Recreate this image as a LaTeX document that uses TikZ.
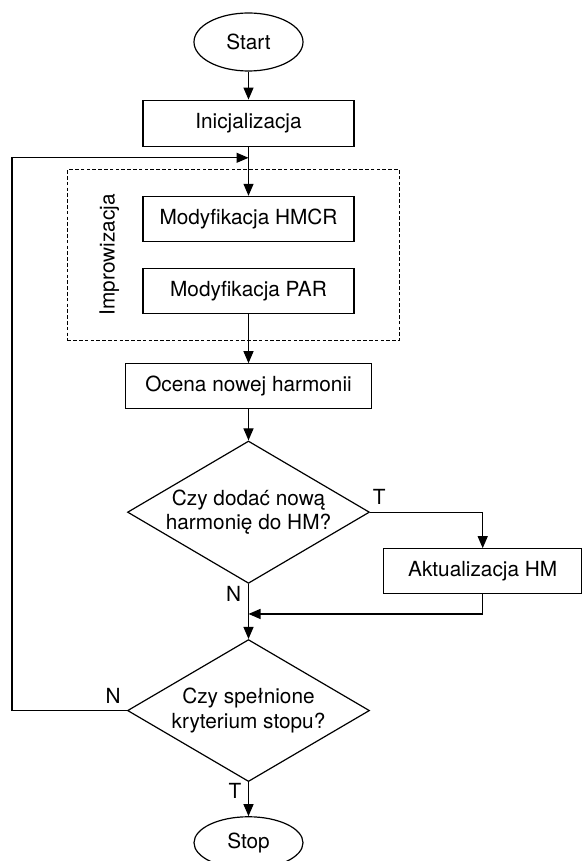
\documentclass[tikz,border=0pt]{standalone}
\usepackage{fontspec}
\setmainfont{TeX Gyre Heros}
\usetikzlibrary{shapes.geometric,arrows.meta,positioning,calc,fit}

\begin{document}
\begin{tikzpicture}[
    node distance=14pt,
    font=\fontsize{10.4pt}{12.4pt}\selectfont,
    line width=0.6pt,
    terminal/.style={draw, ellipse, minimum width=54.5pt, minimum height=29pt, inner sep=0pt},
    process/.style={draw, rectangle, minimum width=105.5pt, minimum height=22.5pt, align=center},
    decision/.style={draw, diamond, aspect=1.7, minimum width=121pt, minimum height=71pt, inner sep=0pt, align=center},
    group/.style={draw, dash pattern=on 1.8pt off 1.1pt, inner sep=0pt},
    arrow/.style={-{Triangle[length=6pt,width=5pt]}}
]
    \useasboundingbox (0,0) rectangle (291pt,-430.5pt);

    \node[terminal] (start) at (124.25pt,-21pt) {Start};
    \node[process, minimum height=23pt, below=14pt of start] (init) {Inicjalizacja};
    \node[process, below=24.5pt of init] (hmcr) {Modyfikacja HMCR};
    \node[process, below=13pt of hmcr] (par) {Modyfikacja PAR};
    \node[process, minimum width=123pt, below=24.5pt of par] (ocena) {Ocena nowej harmonii};
    \node[decision, below=15.5pt of ocena] (dodac) {Czy dodać nową\\harmonię do HM?};
    \node[process, minimum width=99pt, below right=18pt and 6.5pt of dodac.east] (akt) {Aktualizacja HM};
    \node[decision, below=27.5pt of dodac] (kryt) {Czy spełnione\\kryterium stopu?};
    \node[terminal, minimum height=26pt, below=17pt of kryt] (stop) {Stop};

    % blok improwizacji
    \coordinate (impNW) at ($(hmcr.north west)+(-37.5pt,13pt)$);
    \coordinate (impSE) at ($(par.south east)+(22.5pt,-13pt)$);
    \node[group, fit=(impNW)(impSE)] (improw) {};
    \node[rotate=90] (improwtxt) at ($(hmcr.west)!0.5!(par.west)+(-16.5pt,0)$) {Improwizacja};

    \coordinate (petla) at ($(init.south)+(0,-5.5pt)$);
    \coordinate (scal) at ($(dodac.south)+(0,-15pt)$);

    \draw[arrow] (start) -- (init);
    \draw[arrow] (init) -- (hmcr);
    \draw[arrow] (par) -- (ocena);
    \draw[arrow] (ocena) -- (dodac);
    \draw[arrow] (dodac.east) -| node[pos=0.04, above] {T} (akt.north);
    \draw[arrow] (dodac.south) -- node[pos=0.18, left] {N} (kryt.north);
    \draw[arrow] (akt.south) |- (scal);
    \draw[arrow] (kryt.west) -- node[pos=0.12, above] {N} ++(-57.5pt,0) |- (petla);
    \draw[arrow] (kryt.south) -- node[pos=0.26, left] {T} (stop.north);
\end{tikzpicture}
\end{document}
